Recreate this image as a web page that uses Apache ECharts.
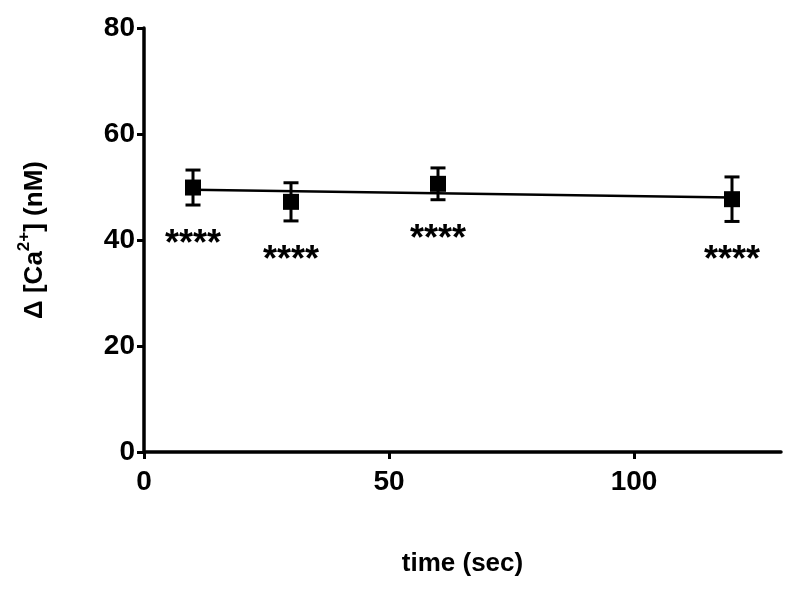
<!DOCTYPE html>
<html>
<head>
<meta charset="utf-8">
<script src="https://cdn.jsdelivr.net/npm/echarts@6/dist/echarts.min.js"></script>
<style>html,body{margin:0;padding:0;background:#fff}#c{width:800px;height:591px}</style>
</head>
<body>
<div id="c"></div>
<script>
var timeSec = [10, 30, 60, 120];
var meanCa = [49.9, 47.2, 50.6, 47.7];
var semCa = [3.3, 3.6, 3.0, 4.2];
var sigLabels = ['****', '****', '****', '****'];
var fitX = [10, 120];
var fitY = [49.5, 48.0];
var xTicks = [0, 50, 100];
var yTicks = [0, 20, 40, 60, 80];

var FONT = 'Liberation Sans, Arial, sans-serif';
var chart = echarts.init(document.getElementById('c'));

var errData = timeSec.map(function (t, i) { return [t, meanCa[i], semCa[i], sigLabels[i]]; });
var ptData = timeSec.map(function (t, i) { return [t, meanCa[i]]; });
var fitData = fitX.map(function (x, i) { return [x, fitY[i]]; });

chart.setOption({
  animation: false,
  backgroundColor: '#fff',
  grid: { left: 144, right: 19, top: 28, bottom: 139, containLabel: false },
  xAxis: {
    type: 'value', min: 0, max: 130, interval: 50,
    name: 'time (sec)', nameLocation: 'middle', nameGap: 99,
    nameTextStyle: { fontFamily: FONT, fontSize: 26, fontWeight: 'bold', color: '#000' },
    axisLine: { onZero: false, lineStyle: { color: '#000', width: 3.5 } },
    axisTick: { length: 7, lineStyle: { color: '#000', width: 3 }, customValues: xTicks },
    axisLabel: { fontFamily: FONT, fontSize: 28, fontWeight: 'bold', color: '#000', margin: 16, customValues: xTicks },
    splitLine: { show: false }
  },
  yAxis: {
    type: 'value', min: 0, max: 80, interval: 20,
    name: '{b|Δ [Ca}{s|2+}{b|] (nM)}', nameLocation: 'middle', nameGap: 96, nameRotate: 90,
    nameTextStyle: {
      fontFamily: FONT, fontSize: 26, fontWeight: 'bold', color: '#000',
      rich: {
        b: { fontFamily: FONT, fontSize: 26, fontWeight: 'bold', color: '#000', lineHeight: 32, verticalAlign: 'bottom' },
        s: { fontFamily: FONT, fontSize: 17, fontWeight: 'bold', color: '#000', lineHeight: 32, verticalAlign: 'top', padding: [0, 0, 14, 0] }
      }
    },
    axisLine: { show: true, onZero: false, lineStyle: { color: '#000', width: 3.5 } },
    axisTick: { show: true, length: 7, lineStyle: { color: '#000', width: 3 }, customValues: yTicks },
    axisLabel: { fontFamily: FONT, fontSize: 28, fontWeight: 'bold', color: '#000', margin: 9, customValues: yTicks },
    splitLine: { show: false }
  },
  series: [
    {
      type: 'line', data: fitData, symbol: 'none',
      lineStyle: { color: '#000', width: 2.5 }, z: 2
    },
    {
      type: 'custom', data: errData, z: 3,
      renderItem: function (params, api) {
        var x = api.value(0), m = api.value(1), e = api.value(2);
        var hi = api.coord([x, m + e]);
        var lo = api.coord([x, m - e]);
        var cw = 7.5;
        var st = { stroke: '#000', lineWidth: 3 };
        return {
          type: 'group',
          children: [
            { type: 'line', shape: { x1: hi[0], y1: hi[1], x2: lo[0], y2: lo[1] }, style: st },
            { type: 'line', shape: { x1: hi[0] - cw, y1: hi[1], x2: hi[0] + cw, y2: hi[1] }, style: st },
            { type: 'line', shape: { x1: lo[0] - cw, y1: lo[1], x2: lo[0] + cw, y2: lo[1] }, style: st },
            { type: 'text', style: { text: api.value(3), x: lo[0], y: lo[1] + 40, align: 'center', verticalAlign: 'middle',
              font: 'bold 36px ' + FONT, fill: '#000' } }
          ]
        };
      }
    },
    {
      type: 'scatter', data: ptData, symbol: 'rect', symbolSize: 16,
      itemStyle: { color: '#000', opacity: 1 }, z: 4
    }
  ]
});
</script>
</body>
</html>
